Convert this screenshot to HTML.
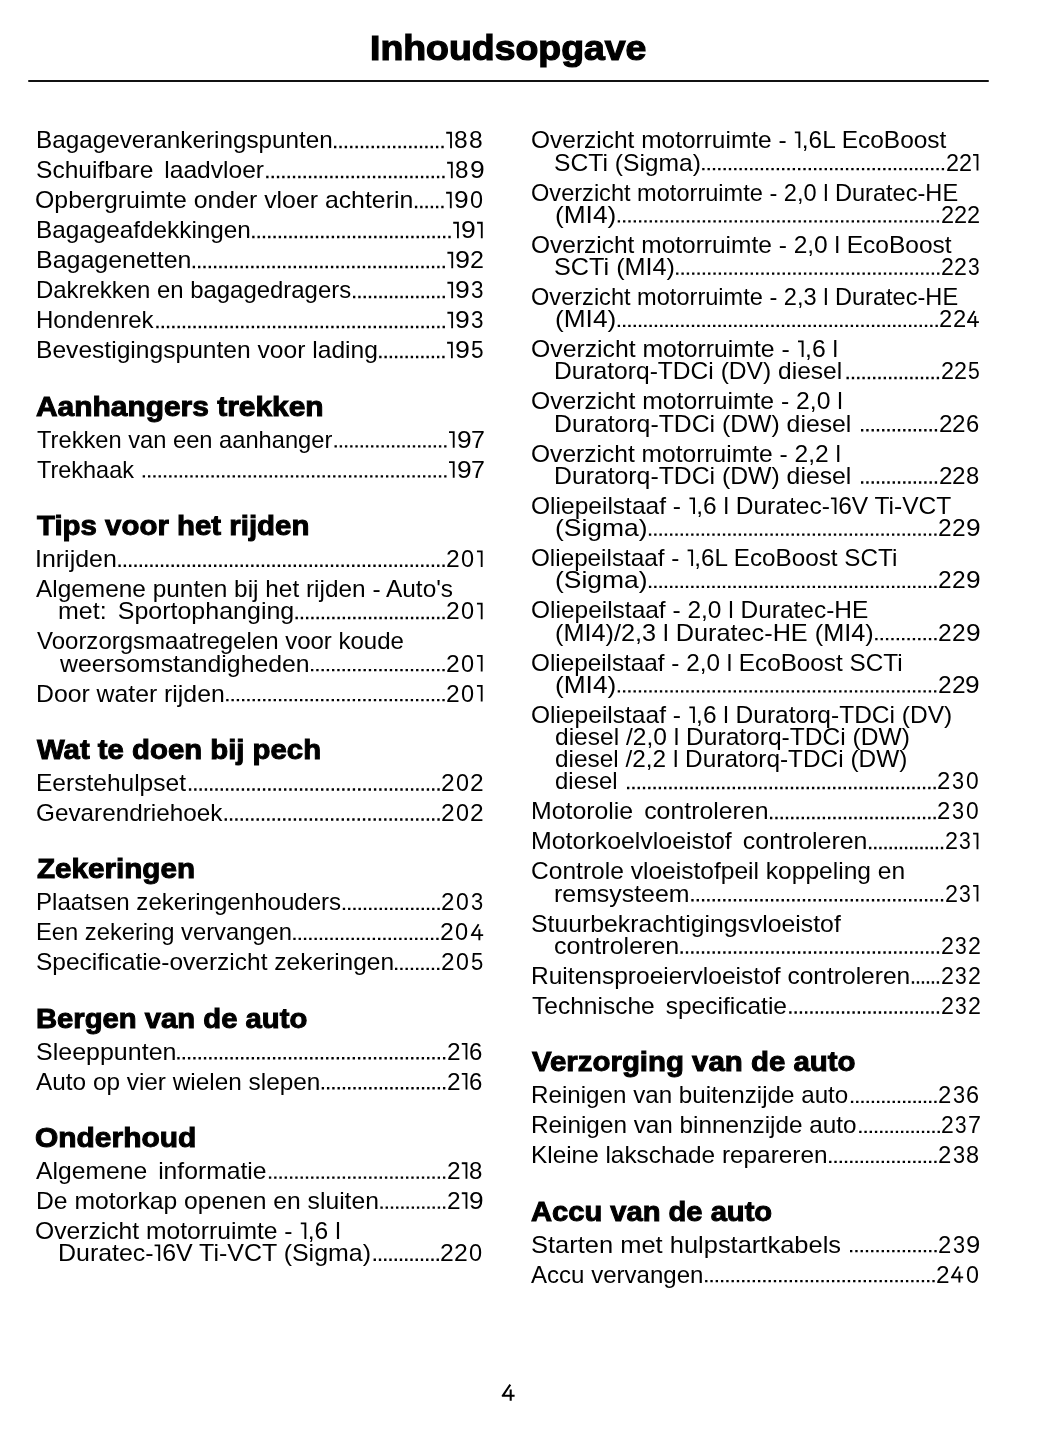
<!DOCTYPE html>
<html><head><meta charset="utf-8"><title>Inhoudsopgave</title>
<style>
html,body{margin:0;padding:0;background:#fff;}
body{width:1048px;height:1449px;position:relative;overflow:hidden;font-family:"Liberation Sans",sans-serif;color:#000;}
.t,.h,.n,.title{position:absolute;white-space:pre;transform-origin:0 0;}
.t{font-size:23.6px;line-height:28px;}
.n{font-size:23.6px;line-height:28px;}
.h{font-size:28.2px;line-height:34px;font-weight:bold;-webkit-text-stroke:1.0px #000;}
.title{font-size:34.6px;line-height:44px;font-weight:bold;-webkit-text-stroke:1.2px #000;}
#pg{position:absolute;left:0;top:0;width:1048px;height:1449px;filter:grayscale(1);}
.rule{position:absolute;left:27.5px;top:80px;width:961px;height:2px;background:#111;border-radius:1px;}
svg{position:absolute;left:0;top:0;}
svg.one{position:static;display:inline-block;vertical-align:baseline;}
</style></head><body><div id="pg">
<div class="title" style="left:369.54px;top:25.70px;transform:scaleX(1.0818)">Inhoudsopgave</div>
<div class="rule"></div>
<div class="t" style="left:35.97px;top:126.40px;transform:scaleX(1.0281)">Bagageverankeringspunten</div>
<div class="n" style="left:454.07px;top:126.40px;transform:scaleX(1.0434)">8</div>
<div class="n" style="left:469.14px;top:126.40px;transform:scaleX(1.0434)">8</div>
<div class="t" style="left:35.56px;top:156.40px;transform:scaleX(1.0409)">Schuifbare  laadvloer</div>
<div class="n" style="left:454.84px;top:156.40px;transform:scaleX(1.0262)">8</div>
<div class="n" style="left:469.57px;top:156.40px;transform:scaleX(1.1195)">9</div>
<div class="t" style="left:35.35px;top:186.40px;transform:scaleX(1.0526)">Opbergruimte onder vloer achterin</div>
<div class="n" style="left:453.72px;top:186.40px;transform:scaleX(1.1154)">9</div>
<div class="n" style="left:469.81px;top:186.40px;transform:scaleX(0.9918)">0</div>
<div class="t" style="left:35.97px;top:216.40px;transform:scaleX(1.0302)">Bagageafdekkingen</div>
<div class="n" style="left:460.87px;top:216.40px;transform:scaleX(1.1222)">9</div>
<div class="t" style="left:35.94px;top:246.40px;transform:scaleX(1.0579)">Bagagenetten</div>
<div class="n" style="left:455.19px;top:246.40px;transform:scaleX(1.1400)">9</div>
<div class="n" style="left:470.25px;top:246.40px;transform:scaleX(1.0627)">2</div>
<div class="t" style="left:36.19px;top:276.40px;transform:scaleX(1.0137)">Dakrekken en bagagedragers</div>
<div class="n" style="left:455.07px;top:276.40px;transform:scaleX(1.1226)">9</div>
<div class="n" style="left:471.05px;top:276.40px;transform:scaleX(0.9499)">3</div>
<div class="t" style="left:35.98px;top:306.40px;transform:scaleX(1.0190)">Hondenrek</div>
<div class="n" style="left:455.07px;top:306.40px;transform:scaleX(1.1226)">9</div>
<div class="n" style="left:471.05px;top:306.40px;transform:scaleX(0.9499)">3</div>
<div class="t" style="left:35.96px;top:336.40px;transform:scaleX(1.0427)">Bevestigingspunten voor lading</div>
<div class="n" style="left:454.83px;top:336.40px;transform:scaleX(1.1320)">9</div>
<div class="n" style="left:470.95px;top:336.40px;transform:scaleX(0.9578)">5</div>
<div class="h" style="left:36.00px;top:388.90px;transform:scaleX(1.0612)">Aanhangers trekken</div>
<div class="t" style="left:36.50px;top:425.75px;transform:scaleX(1.0037)">Trekken van een aanhanger</div>
<div class="n" style="left:456.63px;top:425.75px;transform:scaleX(1.1172)">9</div>
<div class="n" style="left:471.48px;top:425.75px;transform:scaleX(1.0604)">7</div>
<div class="t" style="left:36.50px;top:455.75px;transform:scaleX(0.9941)">Trekhaak</div>
<div class="n" style="left:456.63px;top:455.75px;transform:scaleX(1.1172)">9</div>
<div class="n" style="left:471.48px;top:455.75px;transform:scaleX(1.0604)">7</div>
<div class="h" style="left:36.50px;top:508.25px;transform:scaleX(1.0434)">Tips voor het rijden</div>
<div class="t" style="left:35.29px;top:545.10px;transform:scaleX(1.0571)">Inrijden</div>
<div class="n" style="left:446.16px;top:545.10px;transform:scaleX(1.0442)">2</div>
<div class="n" style="left:461.30px;top:545.10px;transform:scaleX(0.9961)">0</div>
<div class="t" style="left:36.00px;top:575.10px;transform:scaleX(1.0343)">Algemene punten bij het rijden - Auto's</div>
<div class="t" style="left:57.94px;top:597.32px;transform:scaleX(1.0595)">met:  Sportophanging</div>
<div class="n" style="left:446.16px;top:597.32px;transform:scaleX(1.0442)">2</div>
<div class="n" style="left:461.30px;top:597.32px;transform:scaleX(0.9961)">0</div>
<div class="t" style="left:37.00px;top:627.32px;transform:scaleX(1.0173)">Voorzorgsmaatregelen voor koude</div>
<div class="t" style="left:60.05px;top:649.54px;transform:scaleX(1.0515)">weersomstandigheden</div>
<div class="n" style="left:446.16px;top:649.54px;transform:scaleX(1.0442)">2</div>
<div class="n" style="left:461.30px;top:649.54px;transform:scaleX(0.9961)">0</div>
<div class="t" style="left:36.15px;top:679.54px;transform:scaleX(1.0505)">Door water rijden</div>
<div class="n" style="left:446.16px;top:679.54px;transform:scaleX(1.0442)">2</div>
<div class="n" style="left:461.30px;top:679.54px;transform:scaleX(0.9961)">0</div>
<div class="h" style="left:37.00px;top:732.04px;transform:scaleX(1.0405)">Wat te doen bij pech</div>
<div class="t" style="left:35.96px;top:768.89px;transform:scaleX(1.0396)">Eerstehulpset</div>
<div class="n" style="left:441.16px;top:768.89px;transform:scaleX(1.0383)">2</div>
<div class="n" style="left:456.22px;top:768.89px;transform:scaleX(0.9903)">0</div>
<div class="n" style="left:470.44px;top:768.89px;transform:scaleX(1.0383)">2</div>
<div class="t" style="left:35.57px;top:798.89px;transform:scaleX(1.0294)">Gevarendriehoek</div>
<div class="n" style="left:441.16px;top:798.89px;transform:scaleX(1.0383)">2</div>
<div class="n" style="left:456.22px;top:798.89px;transform:scaleX(0.9903)">0</div>
<div class="n" style="left:470.44px;top:798.89px;transform:scaleX(1.0383)">2</div>
<div class="h" style="left:37.00px;top:851.39px;transform:scaleX(1.0505)">Zekeringen</div>
<div class="t" style="left:35.98px;top:888.24px;transform:scaleX(1.0203)">Plaatsen zekeringenhouders</div>
<div class="n" style="left:441.18px;top:888.24px;transform:scaleX(1.0224)">2</div>
<div class="n" style="left:456.00px;top:888.24px;transform:scaleX(0.9753)">0</div>
<div class="n" style="left:471.14px;top:888.24px;transform:scaleX(0.9281)">3</div>
<div class="t" style="left:35.99px;top:918.24px;transform:scaleX(1.0058)">Een zekering vervangen</div>
<div class="n" style="left:440.05px;top:918.24px;transform:scaleX(1.0499)">2</div>
<div class="n" style="left:455.27px;top:918.24px;transform:scaleX(1.0014)">0</div>
<div class="t" style="left:35.56px;top:948.24px;transform:scaleX(1.0383)">Specificatie-overzicht zekeringen</div>
<div class="n" style="left:440.87px;top:948.24px;transform:scaleX(1.0299)">2</div>
<div class="n" style="left:455.80px;top:948.24px;transform:scaleX(0.9824)">0</div>
<div class="n" style="left:471.05px;top:948.24px;transform:scaleX(0.9349)">5</div>
<div class="h" style="left:35.96px;top:1000.74px;transform:scaleX(1.0370)">Bergen van de auto</div>
<div class="t" style="left:35.54px;top:1037.59px;transform:scaleX(1.0599)">Sleeppunten</div>
<div class="n" style="left:446.76px;top:1037.59px;transform:scaleX(1.0356)">2</div>
<div class="n" style="left:469.46px;top:1037.59px;transform:scaleX(1.0183)">6</div>
<div class="t" style="left:36.00px;top:1067.59px;transform:scaleX(1.0324)">Auto op vier wielen slepen</div>
<div class="n" style="left:446.76px;top:1067.59px;transform:scaleX(1.0356)">2</div>
<div class="n" style="left:469.46px;top:1067.59px;transform:scaleX(1.0183)">6</div>
<div class="h" style="left:35.34px;top:1120.09px;transform:scaleX(1.0617)">Onderhoud</div>
<div class="t" style="left:36.00px;top:1156.94px;transform:scaleX(1.0463)">Algemene  informatie</div>
<div class="n" style="left:446.76px;top:1156.94px;transform:scaleX(1.0356)">2</div>
<div class="n" style="left:469.46px;top:1156.94px;transform:scaleX(1.0183)">8</div>
<div class="t" style="left:36.15px;top:1186.94px;transform:scaleX(1.0458)">De motorkap openen en sluiten</div>
<div class="n" style="left:446.76px;top:1186.94px;transform:scaleX(1.0356)">2</div>
<div class="n" style="left:469.37px;top:1186.94px;transform:scaleX(1.1109)">9</div>
<div class="t" style="left:35.36px;top:1216.94px;transform:scaleX(1.0449)">Overzicht motorruimte - <svg class="one" width="8.0" height="17" viewBox="0 0 8.0 17"><path d="M1.35 1.4 H6.55 M5.73 0.5 V17" stroke="#000" stroke-width="1.85" fill="none"/></svg>,6 l</div>
<div class="t" style="left:58.14px;top:1239.16px;transform:scaleX(1.0573)">Duratec-<svg class="one" width="8.0" height="17" viewBox="0 0 8.0 17"><path d="M1.35 1.4 H6.55 M5.73 0.5 V17" stroke="#000" stroke-width="1.85" fill="none"/></svg>6V Ti-VCT (Sigma)</div>
<div class="n" style="left:440.35px;top:1239.16px;transform:scaleX(1.0486)">2</div>
<div class="n" style="left:454.19px;top:1239.16px;transform:scaleX(1.0486)">2</div>
<div class="n" style="left:469.40px;top:1239.16px;transform:scaleX(1.0002)">0</div>
<div class="t" style="left:530.66px;top:126.30px;transform:scaleX(1.0372)">Overzicht motorruimte - <svg class="one" width="8.0" height="17" viewBox="0 0 8.0 17"><path d="M1.35 1.4 H6.55 M5.73 0.5 V17" stroke="#000" stroke-width="1.85" fill="none"/></svg>,6L EcoBoost</div>
<div class="t" style="left:553.55px;top:148.52px;transform:scaleX(1.0451)">SCTi (Sigma)</div>
<div class="n" style="left:945.61px;top:148.52px;transform:scaleX(0.9907)">2</div>
<div class="n" style="left:958.69px;top:148.52px;transform:scaleX(0.9907)">2</div>
<div class="t" style="left:530.70px;top:178.52px;transform:scaleX(0.9993)">Overzicht motorruimte - 2,0 l Duratec-HE</div>
<div class="t" style="left:554.89px;top:200.74px;transform:scaleX(1.1130)">(MI4)</div>
<div class="n" style="left:940.60px;top:200.74px;transform:scaleX(0.9973)">2</div>
<div class="n" style="left:953.77px;top:200.74px;transform:scaleX(0.9973)">2</div>
<div class="n" style="left:966.93px;top:200.74px;transform:scaleX(0.9973)">2</div>
<div class="t" style="left:530.66px;top:230.74px;transform:scaleX(1.0380)">Overzicht motorruimte - 2,0 l EcoBoost</div>
<div class="t" style="left:553.53px;top:252.96px;transform:scaleX(1.0692)">SCTi (MI4)</div>
<div class="n" style="left:940.92px;top:252.96px;transform:scaleX(0.9791)">2</div>
<div class="n" style="left:953.85px;top:252.96px;transform:scaleX(0.9791)">2</div>
<div class="n" style="left:967.85px;top:252.96px;transform:scaleX(0.8887)">3</div>
<div class="t" style="left:530.70px;top:282.96px;transform:scaleX(0.9993)">Overzicht motorruimte - 2,3 l Duratec-HE</div>
<div class="t" style="left:554.89px;top:305.18px;transform:scaleX(1.1130)">(MI4)</div>
<div class="n" style="left:939.29px;top:305.18px;transform:scaleX(1.0078)">2</div>
<div class="n" style="left:952.60px;top:305.18px;transform:scaleX(1.0078)">2</div>
<div class="t" style="left:530.65px;top:335.18px;transform:scaleX(1.0498)">Overzicht motorruimte - <svg class="one" width="8.0" height="17" viewBox="0 0 8.0 17"><path d="M1.35 1.4 H6.55 M5.73 0.5 V17" stroke="#000" stroke-width="1.85" fill="none"/></svg>,6 l</div>
<div class="t" style="left:554.16px;top:357.40px;transform:scaleX(1.0420)">Duratorq-TDCi (DV) diesel</div>
<div class="n" style="left:940.61px;top:357.40px;transform:scaleX(0.9869)">2</div>
<div class="n" style="left:953.64px;top:357.40px;transform:scaleX(0.9869)">2</div>
<div class="n" style="left:967.75px;top:357.40px;transform:scaleX(0.8958)">5</div>
<div class="t" style="left:530.65px;top:387.40px;transform:scaleX(1.0475)">Overzicht motorruimte - 2,0 l</div>
<div class="t" style="left:554.15px;top:409.62px;transform:scaleX(1.0501)">Duratorq-TDCi (DW) diesel</div>
<div class="n" style="left:938.57px;top:409.62px;transform:scaleX(1.0261)">2</div>
<div class="n" style="left:952.12px;top:409.62px;transform:scaleX(1.0261)">2</div>
<div class="n" style="left:965.78px;top:409.62px;transform:scaleX(1.0090)">6</div>
<div class="t" style="left:530.66px;top:439.62px;transform:scaleX(1.0414)">Overzicht motorruimte - 2,2 l</div>
<div class="t" style="left:554.15px;top:461.84px;transform:scaleX(1.0501)">Duratorq-TDCi (DW) diesel</div>
<div class="n" style="left:938.57px;top:461.84px;transform:scaleX(1.0261)">2</div>
<div class="n" style="left:952.12px;top:461.84px;transform:scaleX(1.0261)">2</div>
<div class="n" style="left:965.78px;top:461.84px;transform:scaleX(1.0090)">8</div>
<div class="t" style="left:530.66px;top:491.84px;transform:scaleX(1.0401)">Oliepeilstaaf - <svg class="one" width="8.0" height="17" viewBox="0 0 8.0 17"><path d="M1.35 1.4 H6.55 M5.73 0.5 V17" stroke="#000" stroke-width="1.85" fill="none"/></svg>,6 l Duratec-<svg class="one" width="8.0" height="17" viewBox="0 0 8.0 17"><path d="M1.35 1.4 H6.55 M5.73 0.5 V17" stroke="#000" stroke-width="1.85" fill="none"/></svg>6V Ti-VCT</div>
<div class="t" style="left:554.88px;top:514.06px;transform:scaleX(1.1197)">(Sigma)</div>
<div class="n" style="left:938.06px;top:514.06px;transform:scaleX(1.0392)">2</div>
<div class="n" style="left:951.78px;top:514.06px;transform:scaleX(1.0392)">2</div>
<div class="n" style="left:965.52px;top:514.06px;transform:scaleX(1.1147)">9</div>
<div class="t" style="left:530.67px;top:544.06px;transform:scaleX(1.0279)">Oliepeilstaaf - <svg class="one" width="8.0" height="17" viewBox="0 0 8.0 17"><path d="M1.35 1.4 H6.55 M5.73 0.5 V17" stroke="#000" stroke-width="1.85" fill="none"/></svg>,6L EcoBoost SCTi</div>
<div class="t" style="left:554.88px;top:566.28px;transform:scaleX(1.1197)">(Sigma)</div>
<div class="n" style="left:938.06px;top:566.28px;transform:scaleX(1.0392)">2</div>
<div class="n" style="left:951.78px;top:566.28px;transform:scaleX(1.0392)">2</div>
<div class="n" style="left:965.52px;top:566.28px;transform:scaleX(1.1147)">9</div>
<div class="t" style="left:530.66px;top:596.28px;transform:scaleX(1.0372)">Oliepeilstaaf - 2,0 l Duratec-HE</div>
<div class="t" style="left:554.93px;top:618.50px;transform:scaleX(1.0709)">(MI4)/2,3 l Duratec-HE (MI4)</div>
<div class="n" style="left:938.06px;top:618.50px;transform:scaleX(1.0392)">2</div>
<div class="n" style="left:951.78px;top:618.50px;transform:scaleX(1.0392)">2</div>
<div class="n" style="left:965.52px;top:618.50px;transform:scaleX(1.1147)">9</div>
<div class="t" style="left:530.67px;top:648.50px;transform:scaleX(1.0290)">Oliepeilstaaf - 2,0 l EcoBoost SCTi</div>
<div class="t" style="left:554.89px;top:670.72px;transform:scaleX(1.1130)">(MI4)</div>
<div class="n" style="left:937.86px;top:670.72px;transform:scaleX(1.0366)">2</div>
<div class="n" style="left:951.55px;top:670.72px;transform:scaleX(1.0366)">2</div>
<div class="n" style="left:965.26px;top:670.72px;transform:scaleX(1.1119)">9</div>
<div class="t" style="left:530.66px;top:700.72px;transform:scaleX(1.0394)">Oliepeilstaaf - <svg class="one" width="8.0" height="17" viewBox="0 0 8.0 17"><path d="M1.35 1.4 H6.55 M5.73 0.5 V17" stroke="#000" stroke-width="1.85" fill="none"/></svg>,6 l Duratorq-TDCi (DV)</div>
<div class="t" style="left:555.00px;top:722.94px;transform:scaleX(1.0409)">diesel /2,0 l Duratorq-TDCi (DW)</div>
<div class="t" style="left:555.00px;top:745.16px;transform:scaleX(1.0335)">diesel /2,2 l Duratorq-TDCi (DW)</div>
<div class="t" style="left:555.00px;top:767.38px;transform:scaleX(1.0148)">diesel</div>
<div class="n" style="left:937.29px;top:767.38px;transform:scaleX(1.0125)">2</div>
<div class="n" style="left:951.77px;top:767.38px;transform:scaleX(0.9190)">3</div>
<div class="n" style="left:966.35px;top:767.38px;transform:scaleX(0.9657)">0</div>
<div class="t" style="left:531.25px;top:797.38px;transform:scaleX(1.0527)">Motorolie  controleren</div>
<div class="n" style="left:937.29px;top:797.38px;transform:scaleX(1.0125)">2</div>
<div class="n" style="left:951.77px;top:797.38px;transform:scaleX(0.9190)">3</div>
<div class="n" style="left:966.35px;top:797.38px;transform:scaleX(0.9657)">0</div>
<div class="t" style="left:531.24px;top:827.38px;transform:scaleX(1.0558)">Motorkoelvloeistof  controleren</div>
<div class="n" style="left:944.71px;top:827.38px;transform:scaleX(0.9879)">2</div>
<div class="n" style="left:958.84px;top:827.38px;transform:scaleX(0.8967)">3</div>
<div class="t" style="left:530.86px;top:857.38px;transform:scaleX(1.0410)">Controle vloeistofpeil koppeling en</div>
<div class="t" style="left:553.94px;top:879.60px;transform:scaleX(1.0550)">remsysteem</div>
<div class="n" style="left:944.71px;top:879.60px;transform:scaleX(0.9879)">2</div>
<div class="n" style="left:958.84px;top:879.60px;transform:scaleX(0.8967)">3</div>
<div class="t" style="left:530.85px;top:909.60px;transform:scaleX(1.0498)">Stuurbekrachtigingsvloeistof</div>
<div class="t" style="left:553.94px;top:931.82px;transform:scaleX(1.0611)">controleren</div>
<div class="n" style="left:940.62px;top:931.82px;transform:scaleX(0.9844)">2</div>
<div class="n" style="left:954.69px;top:931.82px;transform:scaleX(0.8935)">3</div>
<div class="n" style="left:967.59px;top:931.82px;transform:scaleX(0.9844)">2</div>
<div class="t" style="left:531.26px;top:961.82px;transform:scaleX(1.0401)">Ruitensproeiervloeistof controleren</div>
<div class="n" style="left:940.62px;top:961.82px;transform:scaleX(0.9844)">2</div>
<div class="n" style="left:954.69px;top:961.82px;transform:scaleX(0.8935)">3</div>
<div class="n" style="left:967.59px;top:961.82px;transform:scaleX(0.9844)">2</div>
<div class="t" style="left:531.80px;top:991.82px;transform:scaleX(1.0399)">Technische  specificatie</div>
<div class="n" style="left:940.62px;top:991.82px;transform:scaleX(0.9844)">2</div>
<div class="n" style="left:954.69px;top:991.82px;transform:scaleX(0.8935)">3</div>
<div class="n" style="left:967.59px;top:991.82px;transform:scaleX(0.9844)">2</div>
<div class="h" style="left:532.30px;top:1044.32px;transform:scaleX(1.0432)">Verzorging van de auto</div>
<div class="t" style="left:531.28px;top:1081.17px;transform:scaleX(1.0248)">Reinigen van buitenzijde auto</div>
<div class="n" style="left:938.09px;top:1081.17px;transform:scaleX(1.0127)">2</div>
<div class="n" style="left:952.57px;top:1081.17px;transform:scaleX(0.9192)">3</div>
<div class="n" style="left:965.95px;top:1081.17px;transform:scaleX(0.9958)">6</div>
<div class="t" style="left:531.27px;top:1111.17px;transform:scaleX(1.0298)">Reinigen van binnenzijde auto</div>
<div class="n" style="left:941.43px;top:1111.17px;transform:scaleX(0.9716)">2</div>
<div class="n" style="left:955.32px;top:1111.17px;transform:scaleX(0.8819)">3</div>
<div class="n" style="left:968.13px;top:1111.17px;transform:scaleX(0.9892)">7</div>
<div class="t" style="left:531.27px;top:1141.17px;transform:scaleX(1.0322)">Kleine lakschade repareren</div>
<div class="n" style="left:938.09px;top:1141.17px;transform:scaleX(1.0127)">2</div>
<div class="n" style="left:952.57px;top:1141.17px;transform:scaleX(0.9192)">3</div>
<div class="n" style="left:965.95px;top:1141.17px;transform:scaleX(0.9958)">8</div>
<div class="h" style="left:531.30px;top:1193.67px;transform:scaleX(1.0332)">Accu van de auto</div>
<div class="t" style="left:530.82px;top:1230.52px;transform:scaleX(1.0795)">Starten met hulpstartkabels</div>
<div class="n" style="left:938.19px;top:1230.52px;transform:scaleX(1.0102)">2</div>
<div class="n" style="left:952.64px;top:1230.52px;transform:scaleX(0.9169)">3</div>
<div class="n" style="left:965.90px;top:1230.52px;transform:scaleX(1.0836)">9</div>
<div class="t" style="left:531.30px;top:1260.52px;transform:scaleX(1.0192)">Accu vervangen</div>
<div class="n" style="left:936.17px;top:1260.52px;transform:scaleX(1.0349)">2</div>
<div class="n" style="left:965.87px;top:1260.52px;transform:scaleX(0.9871)">0</div>
<svg class="p4" width="1048" height="1449"><path d="M510.3 1384.6 L502.7 1395.8 L514.6 1395.8 M510.7 1389.6 L510.7 1400.8" stroke="#000" stroke-width="2.05" fill="none" stroke-linejoin="round" stroke-linecap="butt"/></svg>
<svg width="1048" height="1449" viewBox="0 0 1048 1449"><g stroke="#000" stroke-width="2.35" fill="none">
<path d="M446.20 132.70 L451.83 132.70 M451.01 131.80 L451.01 148.30" stroke-width="1.85" stroke-dasharray="none"/>
<line x1="334.00" y1="147.02" x2="443.70" y2="147.02" stroke-dasharray="2.35 3.017"/>
<path d="M447.10 162.70 L452.64 162.70 M451.82 161.80 L451.82 178.30" stroke-width="1.85" stroke-dasharray="none"/>
<line x1="266.20" y1="177.02" x2="444.60" y2="177.02" stroke-dasharray="2.35 2.985"/>
<path d="M446.10 192.70 L451.61 192.70 M450.79 191.80 L450.79 208.30" stroke-width="1.85" stroke-dasharray="none"/>
<line x1="414.90" y1="207.02" x2="443.60" y2="207.02" stroke-dasharray="2.35 2.920"/>
<path d="M453.20 222.70 L458.75 222.70 M457.93 221.80 L457.93 238.30" stroke-width="1.85" stroke-dasharray="none"/>
<path d="M477.05 222.70 L482.60 222.70 M481.78 221.80 L481.78 238.30" stroke-width="1.85" stroke-dasharray="none"/>
<line x1="252.20" y1="237.02" x2="450.70" y2="237.02" stroke-dasharray="2.35 2.951"/>
<path d="M447.40 252.70 L453.04 252.70 M452.22 251.80 L452.22 268.30" stroke-width="1.85" stroke-dasharray="none"/>
<line x1="192.70" y1="267.02" x2="444.90" y2="267.02" stroke-dasharray="2.35 2.966"/>
<path d="M447.40 282.70 L452.95 282.70 M452.13 281.80 L452.13 298.30" stroke-width="1.85" stroke-dasharray="none"/>
<line x1="353.00" y1="297.02" x2="444.90" y2="297.02" stroke-dasharray="2.35 2.918"/>
<path d="M447.40 312.70 L452.95 312.70 M452.13 311.80 L452.13 328.30" stroke-width="1.85" stroke-dasharray="none"/>
<line x1="156.30" y1="327.02" x2="444.90" y2="327.02" stroke-dasharray="2.35 2.951"/>
<path d="M447.10 342.70 L452.70 342.70 M451.88 341.80 L451.88 358.30" stroke-width="1.85" stroke-dasharray="none"/>
<line x1="379.20" y1="357.02" x2="444.60" y2="357.02" stroke-dasharray="2.35 2.904"/>
<path d="M449.00 432.05 L454.52 432.05 M453.70 431.15 L453.70 447.65" stroke-width="1.85" stroke-dasharray="none"/>
<line x1="334.50" y1="446.38" x2="446.50" y2="446.38" stroke-dasharray="2.35 2.871"/>
<path d="M449.00 462.05 L454.52 462.05 M453.70 461.15 L453.70 477.65" stroke-width="1.85" stroke-dasharray="none"/>
<line x1="142.70" y1="476.38" x2="446.50" y2="476.38" stroke-dasharray="2.35 2.939"/>
<path d="M476.96 551.40 L482.50 551.40 M481.68 550.50 L481.68 567.00" stroke-width="1.85" stroke-dasharray="none"/>
<line x1="118.40" y1="565.73" x2="444.70" y2="565.73" stroke-dasharray="2.35 2.961"/>
<path d="M476.96 603.62 L482.50 603.62 M481.68 602.72 L481.68 619.22" stroke-width="1.85" stroke-dasharray="none"/>
<line x1="295.50" y1="617.95" x2="444.70" y2="617.95" stroke-dasharray="2.35 2.895"/>
<path d="M476.96 655.84 L482.50 655.84 M481.68 654.94 L481.68 671.44" stroke-width="1.85" stroke-dasharray="none"/>
<line x1="311.00" y1="670.17" x2="444.70" y2="670.17" stroke-dasharray="2.35 2.904"/>
<path d="M476.96 685.84 L482.50 685.84 M481.68 684.94 L481.68 701.44" stroke-width="1.85" stroke-dasharray="none"/>
<line x1="226.20" y1="700.17" x2="444.70" y2="700.17" stroke-dasharray="2.35 2.922"/>
<line x1="188.90" y1="789.52" x2="439.70" y2="789.52" stroke-dasharray="2.35 2.936"/>
<line x1="224.60" y1="819.52" x2="439.70" y2="819.52" stroke-dasharray="2.35 2.969"/>
<line x1="342.80" y1="908.87" x2="439.70" y2="908.87" stroke-dasharray="2.35 2.903"/>
<path d="M478.62 924.14 L471.71 935.14 L483.20 935.14 M479.36 929.14 L479.36 940.14" stroke-width="1.9" stroke-dasharray="none" stroke-linejoin="round"/>
<line x1="293.30" y1="938.87" x2="438.60" y2="938.87" stroke-dasharray="2.35 2.944"/>
<line x1="395.00" y1="968.87" x2="439.40" y2="968.87" stroke-dasharray="2.35 2.906"/>
<path d="M461.78 1043.89 L467.27 1043.89 M466.45 1042.99 L466.45 1059.49" stroke-width="1.85" stroke-dasharray="none"/>
<line x1="177.30" y1="1058.22" x2="445.30" y2="1058.22" stroke-dasharray="2.35 2.963"/>
<path d="M461.78 1073.89 L467.27 1073.89 M466.45 1072.99 L466.45 1089.49" stroke-width="1.85" stroke-dasharray="none"/>
<line x1="321.70" y1="1088.22" x2="445.30" y2="1088.22" stroke-dasharray="2.35 2.922"/>
<path d="M461.78 1163.24 L467.27 1163.24 M466.45 1162.34 L466.45 1178.84" stroke-width="1.85" stroke-dasharray="none"/>
<line x1="268.90" y1="1177.57" x2="445.30" y2="1177.57" stroke-dasharray="2.35 2.924"/>
<path d="M461.78 1193.24 L467.27 1193.24 M466.45 1192.34 L466.45 1208.84" stroke-width="1.85" stroke-dasharray="none"/>
<line x1="380.40" y1="1207.57" x2="445.30" y2="1207.57" stroke-dasharray="2.35 2.863"/>
<line x1="373.60" y1="1259.79" x2="438.90" y2="1259.79" stroke-dasharray="2.35 2.896"/>
<path d="M973.05 154.82 L978.30 154.82 M977.48 153.92 L977.48 170.42" stroke-width="1.85" stroke-dasharray="none"/>
<line x1="702.20" y1="169.14" x2="944.10" y2="169.14" stroke-dasharray="2.35 2.973"/>
<line x1="617.70" y1="221.36" x2="939.10" y2="221.36" stroke-dasharray="2.35 2.967"/>
<line x1="676.10" y1="273.58" x2="939.40" y2="273.58" stroke-dasharray="2.35 2.976"/>
<path d="M974.50 311.08 L967.91 322.08 L978.90 322.08 M975.21 316.08 L975.21 327.08" stroke-width="1.9" stroke-dasharray="none" stroke-linejoin="round"/>
<line x1="617.70" y1="325.81" x2="937.80" y2="325.81" stroke-dasharray="2.35 2.946"/>
<line x1="846.50" y1="378.03" x2="939.10" y2="378.03" stroke-dasharray="2.35 2.959"/>
<line x1="861.00" y1="430.25" x2="937.10" y2="430.25" stroke-dasharray="2.35 2.918"/>
<line x1="861.00" y1="482.47" x2="937.10" y2="482.47" stroke-dasharray="2.35 2.918"/>
<line x1="648.90" y1="534.69" x2="936.60" y2="534.69" stroke-dasharray="2.35 2.934"/>
<line x1="648.90" y1="586.91" x2="936.60" y2="586.91" stroke-dasharray="2.35 2.934"/>
<line x1="875.20" y1="639.13" x2="936.60" y2="639.13" stroke-dasharray="2.35 3.018"/>
<line x1="617.70" y1="691.35" x2="936.40" y2="691.35" stroke-dasharray="2.35 2.922"/>
<line x1="627.00" y1="788.01" x2="935.80" y2="788.01" stroke-dasharray="2.35 2.934"/>
<line x1="770.00" y1="818.01" x2="935.80" y2="818.01" stroke-dasharray="2.35 2.923"/>
<path d="M973.07 833.68 L978.30 833.68 M977.48 832.78 L977.48 849.28" stroke-width="1.85" stroke-dasharray="none"/>
<line x1="869.00" y1="848.01" x2="943.20" y2="848.01" stroke-dasharray="2.35 2.782"/>
<path d="M973.07 885.90 L978.30 885.90 M977.48 885.00 L977.48 901.50" stroke-width="1.85" stroke-dasharray="none"/>
<line x1="691.30" y1="900.23" x2="943.20" y2="900.23" stroke-dasharray="2.35 2.960"/>
<line x1="680.50" y1="952.45" x2="939.10" y2="952.45" stroke-dasharray="2.35 2.989"/>
<line x1="911.80" y1="982.45" x2="939.10" y2="982.45" stroke-dasharray="2.35 2.640"/>
<line x1="789.20" y1="1012.45" x2="939.10" y2="1012.45" stroke-dasharray="2.35 2.920"/>
<line x1="850.90" y1="1101.80" x2="936.60" y2="1101.80" stroke-dasharray="2.35 2.859"/>
<line x1="859.20" y1="1131.80" x2="939.90" y2="1131.80" stroke-dasharray="2.35 2.873"/>
<line x1="829.10" y1="1161.80" x2="936.60" y2="1161.80" stroke-dasharray="2.35 2.907"/>
<line x1="850.00" y1="1251.15" x2="936.70" y2="1251.15" stroke-dasharray="2.35 2.922"/>
<path d="M958.66 1266.42 L951.86 1277.42 L963.18 1277.42 M959.39 1271.42 L959.39 1282.42" stroke-width="1.9" stroke-dasharray="none" stroke-linejoin="round"/>
<line x1="705.10" y1="1281.15" x2="934.70" y2="1281.15" stroke-dasharray="2.35 2.935"/>
</g></svg>
</div></body></html>
